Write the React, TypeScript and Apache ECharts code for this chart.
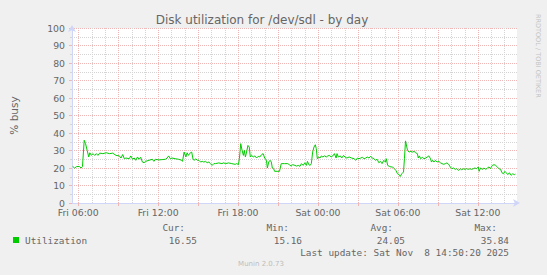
import React, { useEffect, useRef } from "react";
import * as echarts from "echarts";

// time in hours since Fri 00:00
const hours = [
  5.58, 5.73, 5.88, 6.08, 6.22, 6.32, 6.45, 6.55, 6.67, 6.79, 6.87, 6.99, 7.11, 7.24, 7.36, 7.48, 7.61, 7.85, 8.1, 8.35,
  8.59, 8.84, 9.09, 9.21, 9.34, 9.46, 9.58, 9.83, 9.95, 10.08, 10.2, 10.32, 10.45, 10.57, 10.69, 10.82, 10.94, 11.06, 11.31, 11.56,
  11.68, 11.8, 12.05, 12.3, 12.55, 12.67, 12.79, 12.91, 13.04, 13.28, 13.53, 13.78,
  13.83, 13.95, 14.08, 14.18, 14.27, 14.42, 14.52, 14.62, 14.72, 14.82, 14.94, 15.06, 15.19, 15.31, 15.43, 15.56, 15.68, 15.81,
  15.93, 16.05, 16.18, 16.3, 16.55, 16.79, 16.92, 17.04, 17.29, 17.53, 17.78, 17.9, 18.03, 18.1, 18.2, 18.3, 18.4, 18.47, 18.55,
  18.64, 18.74, 18.84, 18.92, 19.02, 19.14, 19.26, 19.39, 19.51, 19.63, 19.76, 19.88, 20.0, 20.13, 20.2, 20.3, 20.4, 20.5, 20.57,
  20.67, 20.74, 20.99, 21.11, 21.24, 21.48, 21.73, 21.85, 21.98, 22.1,
  22.27, 22.39, 22.52, 22.64, 22.76, 22.89, 23.01, 23.13, 23.21, 23.31, 23.41, 23.5, 23.6, 23.7, 23.8, 23.87, 23.95, 24.05, 24.15,
  24.25, 24.37, 24.49, 24.62, 24.74, 24.86, 24.99, 25.11, 25.23, 25.36, 25.43, 25.53, 25.68, 25.78, 25.92, 26.02, 26.17, 26.34,
  26.52, 26.71, 26.84, 26.96, 27.08, 27.21, 27.33, 27.46, 27.58, 27.7, 27.83, 27.95, 28.07, 28.2, 28.32, 28.44, 28.57, 28.69,
  28.81, 28.94, 29.06, 29.13, 29.23, 29.36, 29.48, 29.6, 29.73, 29.85, 29.97, 30.1, 30.17, 30.29, 30.42, 30.49, 30.57,
  30.72, 30.84, 30.97, 31.09, 31.21, 31.34, 31.46, 31.53, 31.61, 31.71, 31.83, 31.95, 32.08, 32.2, 32.32, 32.45, 32.52, 32.6,
  32.7, 32.82, 32.94, 33.07, 33.19, 33.31, 33.44, 33.56, 33.68, 33.81, 33.93, 34.05, 34.18, 34.3, 34.42, 34.55, 34.67, 34.79,
  34.92, 35.04, 35.16, 35.29, 35.41, 35.53, 35.66, 35.78, 35.9, 36.03, 36.1, 36.2, 36.35, 36.45, 36.6, 36.72, 36.84, 36.94,
  37.09, 37.21, 37.34, 37.46, 37.58, 37.71, 37.81, 37.93, 38.03, 38.13, 38.25, 38.37, 38.5, 38.62, 38.74, 38.82,
];

const utilization = [
  20.9, 20.0, 20.8, 20.9, 20.0, 20.8, 35.84, 33.9, 30.1, 26.3, 28.7, 27.2, 28.2, 27.2, 28.2, 27.2, 28.5, 28.2, 28.7, 28.2,
  28.5, 27.2, 26.9, 25.7, 27.7, 25.3, 25.7, 25.3, 26.9, 25.0, 25.7, 24.4, 26.3, 25.0, 26.1, 23.4, 23.0, 23.8, 24.4, 25.0,
  23.8, 25.0, 24.6, 24.8, 25.0, 25.7, 26.9, 25.3, 25.7, 25.3, 25.0, 24.4,
  23.8, 29.1, 26.3, 28.7, 27.2, 28.7, 29.1, 25.0, 24.4, 25.3, 24.4, 24.4, 23.4, 23.8, 23.4, 23.8, 23.0, 23.4,
  22.5, 21.5, 22.5, 22.5, 22.9, 22.5, 23.0, 22.5, 22.9, 22.5, 22.1, 22.5, 21.9, 25.3, 33.9, 30.1, 27.2, 30.1, 26.3,
  29.1, 32.9, 32.0, 26.3, 27.2, 26.3, 26.9, 25.7, 26.7, 26.3, 27.6, 28.2, 25.7, 24.4, 20.0, 23.4, 24.4, 23.4, 20.0,
  19.6, 18.1, 18.1, 18.1, 22.5, 22.5, 22.5, 21.9, 21.1, 21.9,
  21.5, 21.1, 21.5, 20.9, 22.5, 21.5, 23.0, 21.5, 23.8, 21.9, 21.5, 22.5, 29.1, 32.0, 33.3, 31.1, 25.3, 26.3, 25.7,
  26.9, 26.3, 26.9, 26.3, 26.9, 27.2, 26.3, 26.9, 28.2, 25.7, 28.2, 26.3, 26.9, 25.7, 27.2, 26.3, 25.7, 26.3,
  25.7, 25.3, 24.4, 25.7, 25.3, 25.7, 26.1, 25.3, 25.7, 26.3, 25.7, 26.7, 25.7, 25.3, 24.4, 25.0, 23.0, 23.8,
  22.5, 24.4, 23.4, 25.3, 21.5, 20.9, 20.6, 20.6, 19.6, 18.6, 16.7, 16.2, 15.16, 16.7, 17.7, 25.3, 35.5,
  30.1, 29.1, 29.5, 29.1, 29.5, 28.7, 28.2, 25.7, 26.9, 25.3, 26.1, 25.3, 25.7, 26.3, 26.9, 25.3, 23.4, 24.4,
  23.4, 24.4, 23.4, 23.8, 23.0, 22.5, 22.1, 22.5, 22.9, 22.1, 20.6, 19.6, 20.0, 19.2, 19.6, 18.6, 19.6, 19.0,
  19.6, 19.2, 19.6, 19.2, 19.6, 19.2, 19.6, 20.0, 19.6, 20.6, 18.1, 20.0, 19.2, 20.0, 19.2, 20.0, 20.6, 19.6,
  21.5, 21.9, 21.5, 20.6, 19.6, 19.2, 17.3, 16.7, 18.1, 17.3, 16.2, 17.3, 15.8, 16.7, 16.2, 16.55,
];

const xTickHours = [6, 12, 18, 24, 30, 36];
const xTickLabels = ["Fri 06:00", "Fri 12:00", "Fri 18:00", "Sat 00:00", "Sat 06:00", "Sat 12:00"];
const xStartHour = 5.533;
const xEndHour = 38.94;

const seriesName = "Utilization";
const statLabels = ["Cur:", "Min:", "Avg:", "Max:"];
const statValues = ["16.55", "15.16", "24.05", "35.84"];
const titleText = "Disk utilization for /dev/sdl - by day";
const yAxisName = "% busy";
const lastUpdate = "Last update: Sat Nov  8 14:50:20 2025";
const footer = "Munin 2.0.73";
const watermark = "RRDTOOL / TOBI OETIKER";

const FONT = "#666666";
const AXIS = "#CFD6F8";
const MGRID = "#efb6b6";
const GRID = "#d4d4d4";
const LINE = "#00cc00";
const SANS = "DejaVu Sans";
const MONO = "DejaVu Sans Mono";

function gridSeries(values: number[], color: string) {
  return {
    type: "custom",
    silent: true,
    z: 1,
    clip: false,
    data: values.map((h) => [h]),
    encode: { x: 0 },
    renderItem: (_params: any, api: any) => {
      const h = api.value(0);
      const p0 = api.coord([h, 0]);
      const p1 = api.coord([h, 100]);
      const x = Math.round(p0[0]) + 0.5;
      return {
        type: "line",
        shape: { x1: x, y1: Math.round(p1[1]), x2: x, y2: Math.round(p0[1]) },
        style: { stroke: color, lineWidth: 1, lineDash: [1, 1], lineDashOffset: 0 },
        silent: true,
      };
    },
  };
}

export default function App() {
  const ref = useRef<HTMLDivElement>(null);
  useEffect(() => {
    if (!ref.current) return;
    const chart = echarts.init(ref.current, undefined, { renderer: "svg" });
    const majorHours: number[] = [];
    const minorHours: number[] = [];
    for (let h = Math.ceil(xStartHour); h <= xEndHour; h++) {
      if (h % 3 === 0) majorHours.push(h);
      else minorHours.push(h);
    }
    const data = hours.map((h, i) => [h, utilization[i]]);
    const statLabelX = [185, 289, 393, 497];
    const statValueX = [197, 302, 405, 509];
    const graphic: any[] = [
      {
        type: "text",
        x: 262,
        y: 20,
        style: { text: titleText, fill: FONT, font: `12px "${SANS}"`, textAlign: "center", textVerticalAlign: "middle" },
      },
      {
        type: "text",
        x: 538,
        y: 14,
        rotation: -Math.PI / 2,
        style: { text: watermark, fill: "#c4c4c4", font: `6.5px "${SANS}"`, textAlign: "left", textVerticalAlign: "middle" },
      },
      { type: "rect", shape: { x: 13, y: 237, width: 6, height: 6 }, style: { fill: LINE } },
      {
        type: "text",
        x: 25,
        y: 240,
        style: { text: seriesName, fill: FONT, font: `9.4px "${MONO}"`, textAlign: "left", textVerticalAlign: "middle" },
      },
      {
        type: "text",
        x: 509,
        y: 252,
        style: { text: lastUpdate, fill: FONT, font: `9.4px "${MONO}"`, textAlign: "right", textVerticalAlign: "middle" },
      },
      {
        type: "text",
        x: 261,
        y: 264,
        style: { text: footer, fill: "#bdbdbd", font: `7px "${SANS}"`, textAlign: "center", textVerticalAlign: "middle" },
      },
    ];
    statLabels.forEach((s, i) => {
      graphic.push({
        type: "text",
        x: statLabelX[i],
        y: 227,
        style: { text: s, fill: FONT, font: `9.4px "${MONO}"`, textAlign: "right", textVerticalAlign: "middle" },
      });
      graphic.push({
        type: "text",
        x: statValueX[i],
        y: 240,
        style: { text: statValues[i], fill: FONT, font: `9.4px "${MONO}"`, textAlign: "right", textVerticalAlign: "middle" },
      });
    });

    chart.setOption({
      animation: false,
      backgroundColor: "#f0f0f0",
      textStyle: { fontFamily: SANS },
      grid: { left: 66, top: 28, width: 451, height: 175, show: true, backgroundColor: "#ffffff", borderWidth: 0 },
      xAxis: {
        type: "value",
        min: xStartHour,
        max: xEndHour,
        axisLine: {
          show: true,
          lineStyle: { color: AXIS, width: 1 },
          symbol: ["none", "arrow"],
          symbolSize: [6, 7],
          symbolOffset: [0, 3],
        },
        axisTick: { show: true, customValues: majorHours, length: 3, lineStyle: { color: MGRID } },
        axisLabel: {
          customValues: xTickHours,
          formatter: (v: number) => {
            const i = xTickHours.indexOf(Math.round(v));
            return i >= 0 ? xTickLabels[i] : "";
          },
          color: FONT,
          fontSize: 9.33,
          fontFamily: SANS,
          margin: 5,
        },
        splitLine: { show: false },
      },
      yAxis: {
        type: "value",
        min: 0,
        max: 100,
        interval: 10,
        name: yAxisName,
        nameLocation: "middle",
        nameGap: 53,
        nameRotate: 90,
        nameTextStyle: { color: FONT, fontSize: 10.5, fontFamily: SANS },
        axisLine: {
          show: true,
          lineStyle: { color: AXIS, width: 1 },
          symbol: ["none", "arrow"],
          symbolSize: [6, 7],
          symbolOffset: [0, 3],
        },
        axisTick: { show: true, length: 3, lineStyle: { color: MGRID } },
        minorTick: { show: true, splitNumber: 2, length: 2, lineStyle: { color: GRID } },
        axisLabel: { color: FONT, fontSize: 9.33, fontFamily: SANS, margin: 7 },
        splitLine: { show: true, lineStyle: { color: MGRID, type: [1, 1], width: 1 } },
        minorSplitLine: { show: true, lineStyle: { color: GRID, type: [1, 1], width: 1 } },
      },
      graphic,
      series: [
        gridSeries(minorHours, GRID),
        gridSeries(majorHours, MGRID),
        {
          name: seriesName,
          type: "line",
          data,
          z: 3,
          symbol: "none",
          showSymbol: false,
          lineStyle: { color: LINE, width: 1 },
          itemStyle: { color: LINE },
        },
      ],
    });
    return () => chart.dispose();
  }, []);
  return <div ref={ref} style={{ position: "absolute", left: 0, top: 0, width: 547, height: 275 }} />;
}
